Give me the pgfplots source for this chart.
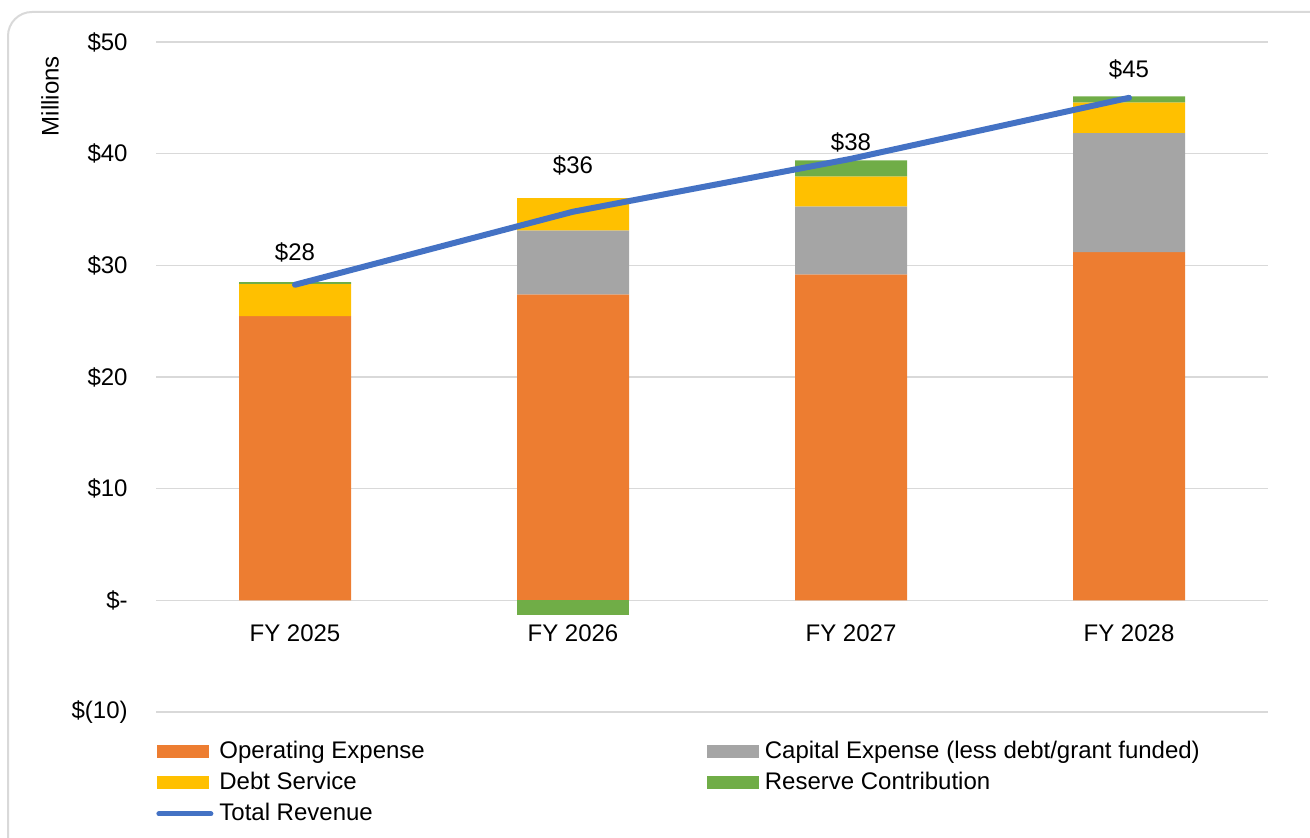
\documentclass[border=0pt]{standalone}
\usepackage{pgfplots}
\pgfplotsset{compat=1.18}
\usepackage{fontspec}
\setmainfont{Liberation Sans}
\definecolor{opex}{HTML}{ED7D31}
\definecolor{capex}{HTML}{A5A5A5}
\definecolor{debt}{HTML}{FFC000}
\definecolor{reserve}{HTML}{70AD47}
\definecolor{rev}{HTML}{4472C4}
\definecolor{gridgray}{HTML}{D9D9D9}
\begin{document}
\fontsize{12}{14}\selectfont
\begin{tikzpicture}[font=\fontsize{12}{14}\selectfont]
\useasboundingbox (0pt,0pt) rectangle (655pt,419pt);
\clip (0pt,0pt) rectangle (655pt,419pt);
\draw[gridgray, line width=1pt, rounded corners=12pt] (4pt,413pt) rectangle (680pt,-20pt);
\begin{axis}[
  at={(78pt,63pt)}, anchor=south west,
  scale only axis, width=556pt, height=335pt,
  xmin=-0.5, xmax=3.5, ymin=-10, ymax=50,
  ybar stacked, bar width=56pt, reverse stacked plots=false,
  xtick={0,1,2,3}, xticklabels={FY 2025,FY 2026,FY 2027,FY 2028},
  ytick={-10,0,10,20,30,40,50},
  yticklabels={\$(10),\$-,\$10,\$20,\$30,\$40,\$50},
  axis line style={draw=none}, major tick length=0pt,
  ymajorgrids, grid style={draw=gridgray, line width=0.75pt},
  yticklabel style={anchor=east, xshift=-10pt},
  xticklabel style={anchor=center, yshift=39.5pt},
  ylabel={Millions},
  every axis y label/.style={at={(axis description cs:-0.0953,0.919)}, rotate=90, anchor=center},
  clip=false,
  legend columns=2,
  legend cell align=left,
  legend style={draw=none, fill=none, at={(axis description cs:0,0)}, anchor=north west,
    xshift=0pt, yshift=-13pt, inner sep=0pt, row sep=2pt,
    nodes={text height=9pt, text depth=2.5pt, inner sep=1pt},
    /tikz/every odd column/.append style={column sep=2pt},
    /tikz/every even column/.append style={column sep=140pt}},
  legend image code/.code={\fill[#1] (0pt,-3.3pt) rectangle (26pt,3.3pt);},
]
\addplot[fill=opex, draw=none] coordinates {(0,25.45) (1,27.39) (2,29.18) (3,31.18)};
\addlegendentry{Operating Expense}
\addplot[fill=capex, draw=none] coordinates {(0,0) (1,5.73) (2,6.09) (3,10.69)};
\addlegendentry{Capital Expense (less debt/grant funded)}
\addplot[fill=debt, draw=none] coordinates {(0,2.90) (1,2.90) (2,2.69) (3,2.72)};
\addlegendentry{Debt Service}
\addplot[fill=reserve, draw=none] coordinates {(0,0.15) (1,0) (2,1.43) (3,0.53)};
\addlegendentry{Reserve Contribution}
\addplot[fill=reserve, draw=none, stack plots=false, forget plot] coordinates {(1,-1.28)};
\addplot[rev, line width=3pt, line cap=round, line join=round, sharp plot, mark=none, stack plots=false,
  legend image code/.code={\draw[rev, line width=2.5pt, line cap=round] (1pt,0pt) -- (27pt,0pt);}]
  coordinates {(0,28.26) (1,34.8) (2,39.54) (3,45.0)};
\addlegendentry{Total Revenue}
\node[anchor=center, yshift=15.5pt] at (axis cs:0,28.35) {\$28};
\node[anchor=center, yshift=16.5pt] at (axis cs:1,36.02) {\$36};
\node[anchor=center, yshift=17pt] at (axis cs:2,37.96) {\$38};
\node[anchor=center, yshift=16.5pt] at (axis cs:3,44.59) {\$45};
\end{axis}
\end{tikzpicture}
\end{document}
